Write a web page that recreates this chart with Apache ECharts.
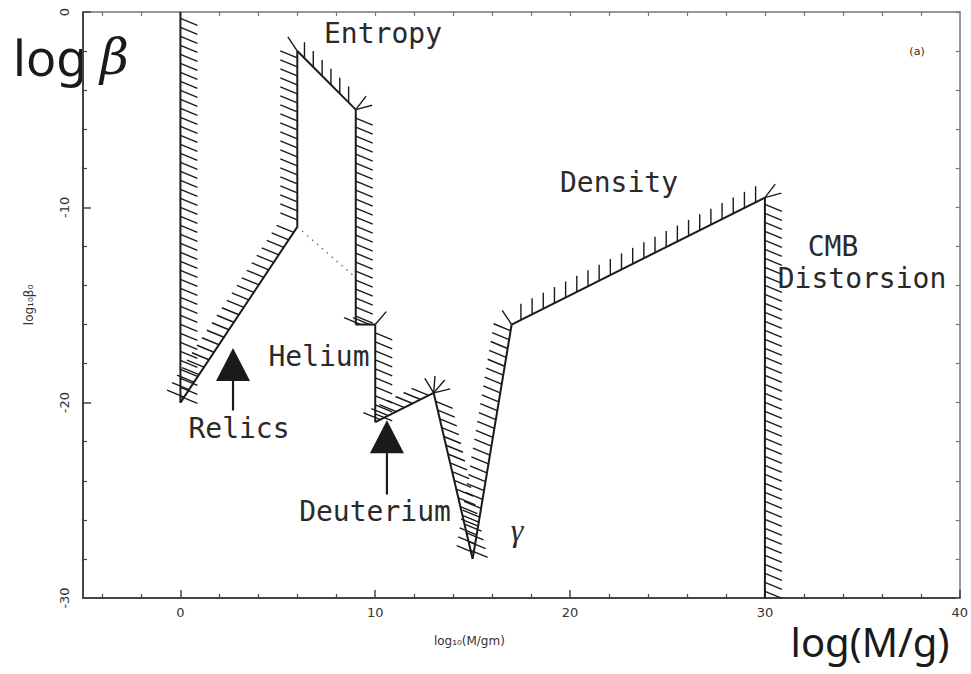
<!DOCTYPE html>
<html><head><meta charset="utf-8">
<script src="https://cdn.jsdelivr.net/npm/echarts@6/dist/echarts.min.js"></script>
<style>html,body{margin:0;padding:0;background:#fff}#c{width:971px;height:674px}</style>
</head><body><div id="c"></div>
<script>
// ---- data ----
const boundaryX = [0, 0, 6, 6, 9, 9, 10, 10, 13, 15, 17, 30, 30];
const boundaryY = [0, -20, -11, -2, -5, -16, -16, -21, -19.5, -28, -16, -9.5, -30];
const dottedX = [6, 9];
const dottedY = [-11, -13.6];
const arrowX = [2.7, 10.6];
const arrowTailY = [-20.4, -24.7];
const arrowTipY = [-17.2, -20.9];
const xTickLabels = [0, 10, 20, 30, 40];
const yTickLabels = [-30, -20, -10, 0];

// ---- styles ----
const HATCH_KIND = ['slash','slash','slash','tick','slash','slash','slash','slash','slash','slash','tick','slash'];
const SLASH_VEC = [17, 7];
const TICK_VEC = [0, -16];
const INK = '#1a1a1a';

const xMinor = [], xAll = [];
for (let v = -4; v <= 38; v += 2) { xAll.push(v); if (v % 10 !== 0) xMinor.push(v); }

const segData = [];
for (let i = 0; i < boundaryX.length - 1; i++) {
  segData.push([boundaryX[i], boundaryY[i], boundaryX[i + 1], boundaryY[i + 1], i]);
}

function hatchVec(p1, p2, kind) {
  const dx = p2[0] - p1[0], dy = p2[1] - p1[1], L = Math.hypot(dx, dy);
  const nx = dy / L, ny = -dx / L;
  const base = kind === 'tick' ? TICK_VEC : SLASH_VEC;
  const s = (nx * base[0] + ny * base[1]) >= 0 ? 1 : -1;
  return [base[0] * s, base[1] * s];
}

function renderHatch(params, api) {
  const i = api.value(4);
  const p1 = api.coord([api.value(0), api.value(1)]);
  const p2 = api.coord([api.value(2), api.value(3)]);
  const kind = HATCH_KIND[i];
  const children = [];
  const dx = p2[0] - p1[0], dy = p2[1] - p1[1], L = Math.hypot(dx, dy);
  const v = hatchVec(p1, p2, kind);
  const step = kind === 'tick' ? 12.5 : 9;
  const n = Math.max(1, Math.floor(L / step));
  const off = (L - (n - 1) * step) / 2;
  const hs = { stroke: INK, lineWidth: 1.4 };
  for (let k = 0; k < n; k++) {
    const d = off + k * step;
    const px = p1[0] + dx / L * d, py = p1[1] + dy / L * d;
    children.push({ type: 'line', shape: { x1: px, y1: py, x2: px + v[0], y2: py + v[1] }, style: hs });
  }
  if (i + 2 < boundaryX.length) {
    const q2 = api.coord([boundaryX[i + 2], boundaryY[i + 2]]);
    const ex = q2[0] - p2[0], ey = q2[1] - p2[1];
    if (dx * ey - dy * ex > 0) {
      const w = hatchVec(p2, q2, HATCH_KIND[i + 1]);
      const a0 = Math.atan2(v[1], v[0]);
      let delta = Math.atan2(w[1], w[0]) - a0;
      while (delta <= 0) delta += 2 * Math.PI;
      const m = Math.max(2, Math.round(delta / (Math.PI / 5)));
      const short = Math.min(L, Math.hypot(ex, ey)) < 30;
      for (let j = 1; j < m; j++) {
        if (short && j !== Math.round(m / 2)) continue;
        const a = a0 + delta * j / m;
        children.push({ type: 'line', shape: { x1: p2[0], y1: p2[1], x2: p2[0] + 17 * Math.cos(a), y2: p2[1] + 17 * Math.sin(a) }, style: hs });
      }
    }
  }
  children.push({ type: 'line', shape: { x1: p1[0], y1: p1[1], x2: p2[0], y2: p2[1] }, style: { stroke: INK, lineWidth: 2 } });
  return { type: 'group', children };
}

function renderArrow(params, api) {
  const tail = api.coord([api.value(0), api.value(1)]);
  const tip = api.coord([api.value(0), api.value(2)]);
  const hl = 33, hw = 17;
  return { type: 'group', children: [
    { type: 'line', shape: { x1: tail[0], y1: tail[1], x2: tip[0], y2: tip[1] + hl }, style: { stroke: INK, lineWidth: 2.2 } },
    { type: 'polygon', shape: { points: [[tip[0], tip[1]], [tip[0] - hw, tip[1] + hl], [tip[0] + hw, tip[1] + hl]] }, style: { fill: INK } }
  ] };
}

const mono = '"DejaVu Sans Mono", "Liberation Mono", monospace';
function label(text, x, y, font) {
  return { type: 'text', x, y, style: { text, font: font || ('28px ' + mono), fill: '#2a2a2a',
    align: 'center', verticalAlign: 'middle', textAlign: 'center', textVerticalAlign: 'middle' } };
}

const axisCol = '#444';
const chart = echarts.init(document.getElementById('c'), null, { renderer: 'svg' });
chart.setOption({
  animation: false,
  backgroundColor: '#fff',
  grid: { left: 83, right: 8, top: 12, bottom: 76, containLabel: false },
  xAxis: [
    { type: 'value', position: 'bottom', min: -5, max: 40,
      axisLine: { show: true, onZero: false, lineStyle: { color: axisCol, width: 2 } },
      axisTick: { show: true, inside: true, length: 8, customValues: xTickLabels, lineStyle: { color: axisCol, width: 1.5 } },
      axisLabel: { show: true, customValues: xTickLabels, margin: 8, fontSize: 13, fontFamily: 'DejaVu Sans', color: '#333' },
      splitLine: { show: false },
      name: 'log₁₀(M/gm)', nameLocation: 'middle', nameGap: 37,
      nameTextStyle: { fontSize: 12, fontFamily: 'DejaVu Sans', color: '#333', padding: [0, 104, 0, 0] } },
    { type: 'value', position: 'bottom', min: -5, max: 40,
      axisLine: { show: false, onZero: false },
      axisTick: { show: true, inside: true, length: 4, customValues: xMinor, lineStyle: { color: axisCol, width: 1.2 } },
      axisLabel: { show: false }, splitLine: { show: false } },
    { type: 'value', position: 'top', min: -5, max: 40,
      axisLine: { show: true, onZero: false, lineStyle: { color: '#777', width: 1.5 } },
      axisTick: { show: true, inside: true, length: 4, customValues: xAll, lineStyle: { color: '#777', width: 1.2 } },
      axisLabel: { show: false }, splitLine: { show: false } }
  ],
  yAxis: [
    { type: 'value', position: 'left', min: -30, max: 0, interval: 10,
      axisLine: { show: true, onZero: false, lineStyle: { color: axisCol, width: 2 } },
      axisTick: { show: true, inside: true, length: 8, lineStyle: { color: axisCol, width: 1.5 } },
      minorTick: { show: true, splitNumber: 5, length: 4, lineStyle: { color: axisCol, width: 1.2 } },
      axisLabel: { show: true, rotate: 90, margin: 12, fontSize: 13, fontFamily: 'DejaVu Sans', color: '#333',
        customValues: yTickLabels },
      splitLine: { show: false },
      name: 'log₁₀β₀', nameLocation: 'middle', nameGap: 48,
      nameTextStyle: { fontSize: 12, fontFamily: 'DejaVu Sans', color: '#333' } },
    { type: 'value', position: 'right', min: -30, max: 0, interval: 10,
      axisLine: { show: true, onZero: false, lineStyle: { color: '#777', width: 1.5 } },
      axisTick: { show: true, inside: true, length: 4, lineStyle: { color: '#777', width: 1.2 } },
      minorTick: { show: true, splitNumber: 5, length: 4, lineStyle: { color: '#777', width: 1.2 } },
      axisLabel: { show: false }, splitLine: { show: false } }
  ],
  series: [
    { type: 'line', data: dottedX.map((x, i) => [x, dottedY[i]]), showSymbol: false, silent: true,
      lineStyle: { color: '#666', width: 1.3, type: [1.5, 5] } },
    { type: 'custom', data: segData, renderItem: renderHatch, clip: true, silent: true,
      encode: { x: [0, 2], y: [1, 3] } },
    { type: 'custom', data: arrowX.map((x, i) => [x, arrowTailY[i], arrowTipY[i]]), renderItem: renderArrow,
      silent: true, encode: { x: 0, y: [1, 2] } }
  ],
  graphic: [
    { type: 'text', x: 13, y: 57, style: { text: '{a|log} {b|β}', font: '50px "Noto Sans"', fill: '#1a1a1a',
      align: 'left', verticalAlign: 'middle', textAlign: 'left', textVerticalAlign: 'middle',
      rich: { a: { font: '50px "Noto Sans"', fill: '#1a1a1a' }, b: { font: 'italic 50px "DejaVu Serif"', fill: '#1a1a1a' } } } },
    label('Entropy', 383, 33),
    label('Density', 619, 182),
    label('CMB', 833, 246),
    label('Distorsion', 862, 278),
    label('Helium', 319, 356),
    label('Relics', 239, 428),
    label('Deuterium', 375, 511),
    label('γ', 517, 530, 'italic 32px "Liberation Serif"'),
    label('(a)', 917, 51, '11px "DejaVu Sans"'),
    { type: 'text', x: 870, y: 661, style: { text: 'log(M/g)', font: '40px "Noto Sans"', fill: '#1a1a1a',
      align: 'center', verticalAlign: 'bottom', textAlign: 'center', textVerticalAlign: 'bottom' } }
  ]
});
</script></body></html>
